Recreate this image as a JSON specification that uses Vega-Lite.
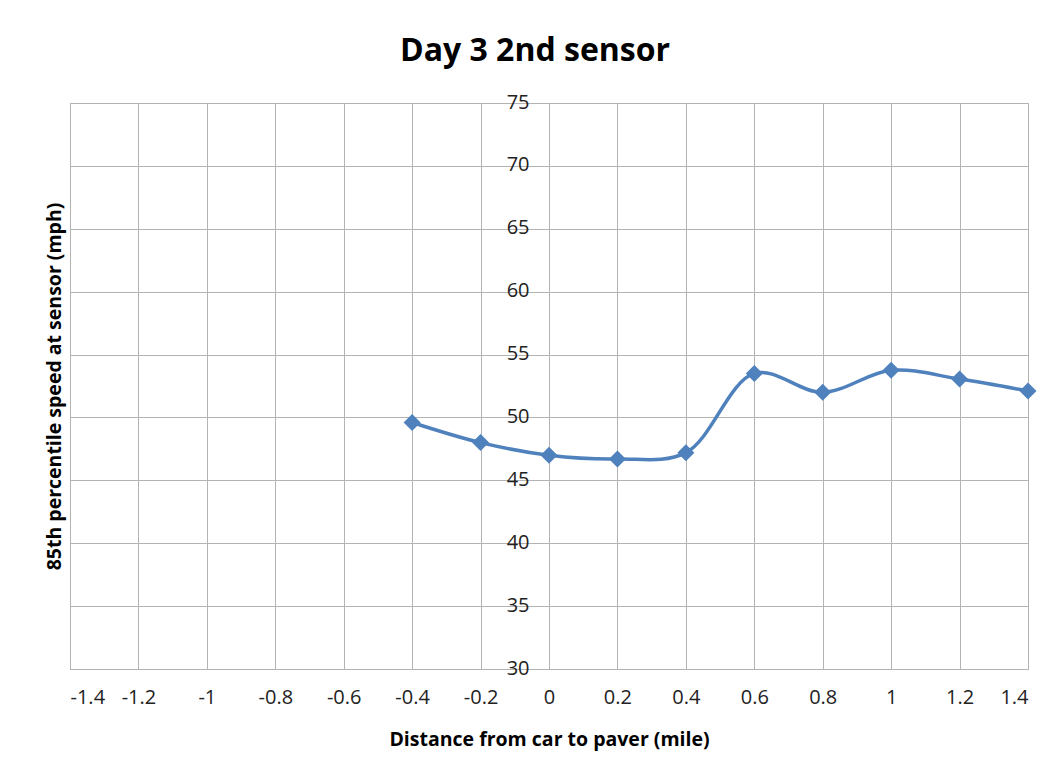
{
  "$schema": "https://vega.github.io/schema/vega-lite/v6.json",
  "width": 958,
  "height": 566,
  "autosize": {"type": "none"},
  "padding": {"left": 70, "top": 103, "right": 33, "bottom": 107},
  "background": "white",
  "title": {"text": "Day 3 2nd sensor", "font": "Open Sans", "fontSize": 32, "fontWeight": "bold", "color": "#000000", "anchor": "middle", "dx": -14, "offset": 24},
  "config": {
    "view": {"stroke": "#A6A6A6", "strokeWidth": 1},
    "axis": {"gridColor": "#B3B3B3", "gridWidth": 1, "labelFont": "Open Sans", "labelFontSize": 20, "labelColor": "#222222", "titleFont": "Open Sans", "titleFontSize": 19.5, "titleFontWeight": "bold", "titleColor": "#000000"}
  },
  "data": {"values": [
    {"d": -0.4, "s": 49.6},
    {"d": -0.2, "s": 48.0},
    {"d": 0.0, "s": 47.0},
    {"d": 0.2, "s": 46.7},
    {"d": 0.4, "s": 47.2},
    {"d": 0.6, "s": 53.5},
    {"d": 0.8, "s": 52.0},
    {"d": 1.0, "s": 53.75},
    {"d": 1.2, "s": 53.05},
    {"d": 1.4, "s": 52.1}
  ]},
  "layer": [
    {
      "mark": {"type": "line", "interpolate": "catmull-rom", "color": "#4F81BD", "strokeWidth": 3.5},
      "encoding": {
        "x": {"field": "d", "type": "quantitative", "scale": {"domain": [-1.4, 1.4], "nice": false, "zero": false},
          "axis": {"title": "Distance from car to paver (mile)", "values": [-1.4,-1.2,-1,-0.8,-0.6,-0.4,-0.2,0,0.2,0.4,0.6,0.8,1,1.2,1.4], "labelExpr": "replace(format(datum.value, '~g'), '−', '-')", "ticks": false, "domain": false, "labelPadding": 18, "titlePadding": 23, "grid": true}},
        "y": {"field": "s", "type": "quantitative", "scale": {"domain": [30, 75], "nice": false, "zero": false},
          "axis": {"title": "85th percentile speed at sensor (mph)", "values": [30,35,40,45,50,55,60,65,70,75], "labels": false, "ticks": false, "domain": false, "grid": true, "titlePadding": 6}}
      }
    },
    {
      "mark": {"type": "point", "shape": "diamond", "filled": true, "color": "#4F81BD", "size": 290, "opacity": 1},
      "encoding": {
        "x": {"field": "d", "type": "quantitative"},
        "y": {"field": "s", "type": "quantitative",
          "axis": {"title": null, "orient": "left", "offset": -479, "values": [30,35,40,45,50,55,60,65,70,75], "ticks": false, "domain": false, "grid": false, "labelPadding": 20, "labelBaseline": "middle", "labelOffset": -1}}
      }
    }
  ],
  "resolve": {"axis": {"y": "independent"}}
}
